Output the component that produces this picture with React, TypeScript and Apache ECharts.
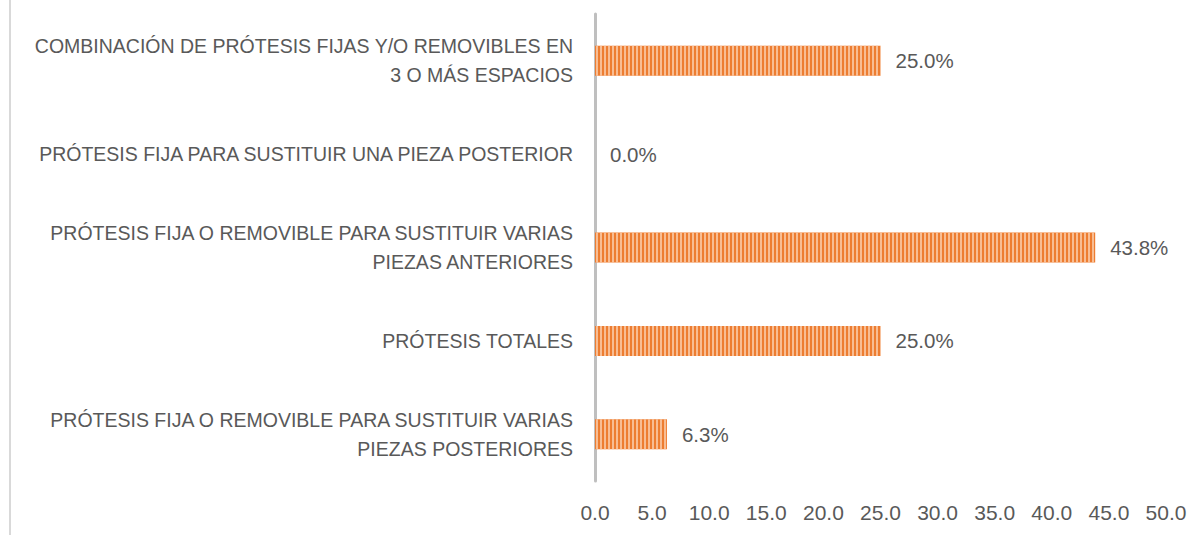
import React, { useEffect, useRef } from "react";
import * as echarts from "echarts";

const categories: string[] = [
  "PRÓTESIS FIJA O REMOVIBLE PARA SUSTITUIR VARIAS\nPIEZAS POSTERIORES",
  "PRÓTESIS TOTALES",
  "PRÓTESIS FIJA O REMOVIBLE PARA SUSTITUIR VARIAS\nPIEZAS ANTERIORES",
  "PRÓTESIS FIJA PARA SUSTITUIR UNA PIEZA POSTERIOR",
  "COMBINACIÓN DE PRÓTESIS FIJAS Y/O REMOVIBLES EN\n3 O MÁS ESPACIOS",
];
const values: number[] = [6.3, 25.0, 43.8, 0.0, 25.0];
const xMin = 0;
const xMax = 50;
const xInterval = 5;

const FONT = "'Liberation Sans', Arial, sans-serif";
const TEXT = "#595959";

export default function App() {
  const ref = useRef<HTMLDivElement>(null);
  useEffect(() => {
    document.body.style.margin = "0";
    if (!ref.current) return;
    const chart = echarts.init(ref.current, undefined, { renderer: "svg" });
    chart.setOption({
      animation: false,
      aria: { enabled: true, decal: { show: true } },
      graphic: [
        {
          type: "line",
          shape: { x1: 10, y1: 0, x2: 10, y2: 535 },
          style: { stroke: "#d9d9d9", lineWidth: 2 },
          silent: true,
        },
      ],
      grid: { left: 595, right: 35, top: 14, bottom: 54, containLabel: false },
      xAxis: {
        type: "value",
        min: xMin,
        max: xMax,
        interval: xInterval,
        axisLine: { show: false },
        axisTick: { show: false },
        splitLine: { show: false },
        axisLabel: {
          color: TEXT,
          fontFamily: FONT,
          fontSize: 21,
          margin: 21,
          formatter: (v: number) => v.toFixed(1),
        },
      },
      yAxis: {
        type: "category",
        data: categories,
        axisLine: { show: true, lineStyle: { color: "#BFBFBF", width: 3 } },
        axisTick: { show: false },
        axisLabel: {
          color: TEXT,
          fontFamily: FONT,
          fontSize: 19.5,
          lineHeight: 29,
          margin: 22,
          align: "right",
        },
      },
      series: [
        {
          type: "bar",
          data: values,
          barWidth: 30,
          itemStyle: {
            color: "#ED7D31",
            decal: {
              symbol: "rect",
              symbolSize: 1,
              color: "rgba(250,200,165,0.85)",
              dashArrayX: [2, 2],
              dashArrayY: [4, 0],
              rotation: 0,
            },
          },
          label: {
            show: true,
            position: "right",
            distance: 15,
            color: TEXT,
            fontFamily: FONT,
            fontSize: 20.5,
            formatter: (p: any) => Number(p.value).toFixed(1) + "%",
          },
        },
      ],
    });
    return () => chart.dispose();
  }, []);
  return <div ref={ref} style={{ width: 1201, height: 535 }} />;
}
